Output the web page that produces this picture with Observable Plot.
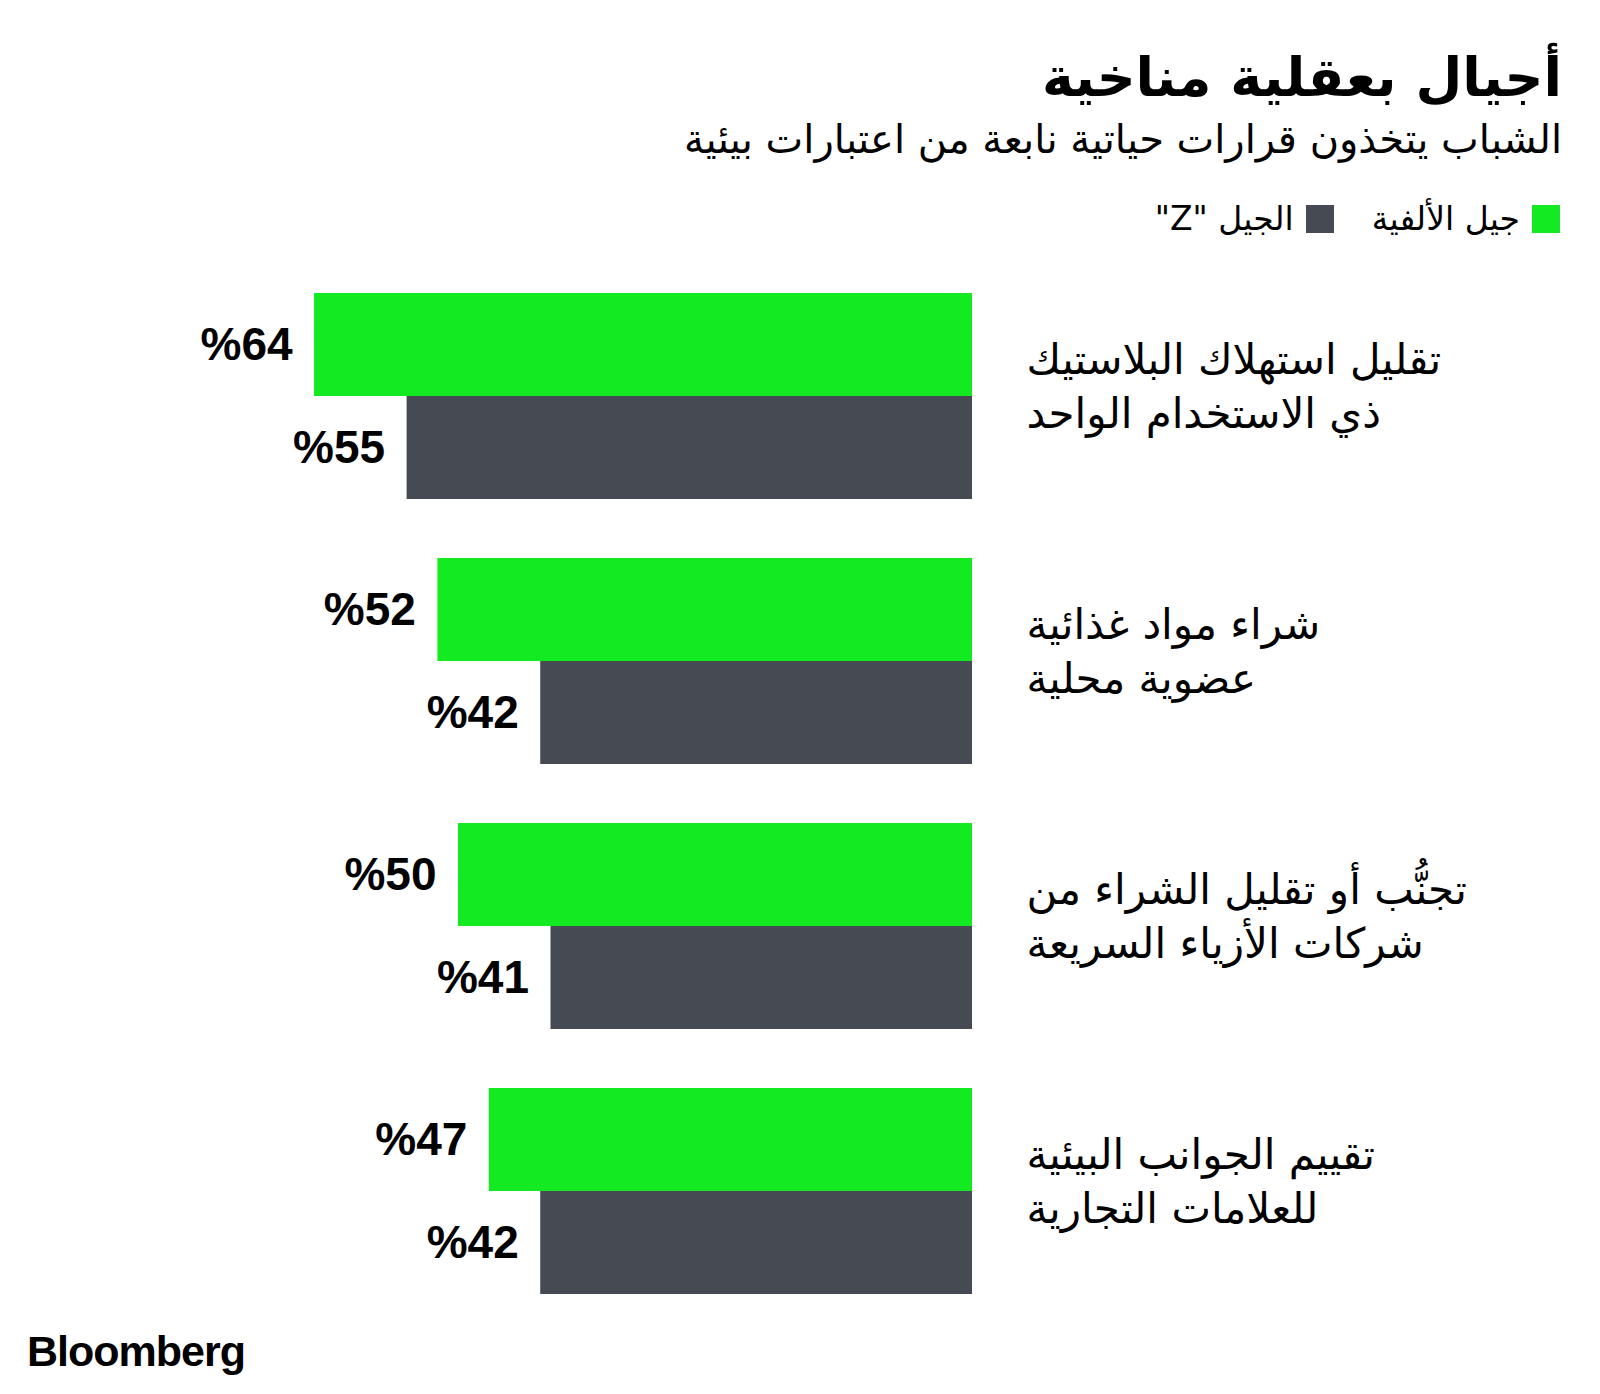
<!DOCTYPE html>
<html lang="ar">
<head>
<meta charset="utf-8">
<script src="https://cdn.jsdelivr.net/npm/d3@7"></script>
<script src="https://cdn.jsdelivr.net/npm/@observablehq/plot@0.6"></script>
<style>
  html, body { margin: 0; padding: 0; background: #fff; }
  body { width: 1600px; height: 1394px; position: relative; overflow: hidden; font-family: "DejaVu Sans", sans-serif; color: #000; }
  #header { position: relative; height: 250px; }
  #title { position: absolute; right: 38px; top: 46px; font-size: 54px; font-weight: bold; direction: rtl; white-space: nowrap; line-height: 1.2; }
  #subtitle { position: absolute; right: 38px; top: 115px; font-size: 40px; direction: rtl; white-space: nowrap; line-height: 1.2; }
  #legend { position: absolute; right: 40px; top: 199px; display: flex; direction: rtl; gap: 38px; font-size: 33px; align-items: center; white-space: nowrap; }
  .item { display: flex; align-items: center; gap: 12px; }
  .sw { width: 28px; height: 28px; display: inline-block; }
  #chart { position: absolute; left: 0; top: 250px; }
  #logo { position: absolute; left: 27px; top: 1327px; font-family: "Liberation Sans", Arial, sans-serif; font-weight: bold; font-size: 43px; letter-spacing: -1px; }
</style>
</head>
<body>
<div id="header">
  <div id="title"></div>
  <div id="subtitle"></div>
  <div id="legend"></div>
</div>
<div id="chart"></div>
<div id="logo">Bloomberg</div>
<script>
const titleText = "أجيال بعقلية مناخية";
const subtitleText = "الشباب يتخذون قرارات حياتية نابعة من اعتبارات بيئية";
const seriesNames = ["جيل الألفية", "الجيل \"Z\""];
const seriesColors = ["#14EA22", "#464A53"];
const categories = [
  "تقليل استهلاك البلاستيك\nذي الاستخدام الواحد",
  "شراء مواد غذائية\nعضوية محلية",
  "تجنُّب أو تقليل الشراء من\nشركات الأزياء السريعة",
  "تقييم الجوانب البيئية\nللعلامات التجارية"
];
const millennials = [64, 52, 50, 47];
const genZ = [55, 42, 41, 42];

document.getElementById("title").textContent = titleText;
document.getElementById("subtitle").textContent = subtitleText;
const legend = document.getElementById("legend");
seriesNames.forEach((name, i) => {
  const it = document.createElement("div");
  it.className = "item";
  const sw = document.createElement("span");
  sw.className = "sw";
  sw.style.background = seriesColors[i];
  const lab = document.createElement("span");
  lab.textContent = name;
  it.appendChild(sw);
  it.appendChild(lab);
  legend.appendChild(it);
});

const rows = [];
categories.forEach((c, i) => {
  rows.push({category: c, series: seriesNames[0], value: millennials[i]});
  rows.push({category: c, series: seriesNames[1], value: genZ[i]});
});

const chart = Plot.plot({
  width: 1600,
  height: 1060,
  marginLeft: 0,
  marginRight: 628,
  marginTop: 40,
  marginBottom: 14,
  x: {domain: [0, 94.55], reverse: true, axis: null},
  y: {domain: seriesNames, padding: 0, axis: null},
  fy: {domain: categories, paddingInner: 0.217, paddingOuter: 0, axis: null},
  color: {domain: seriesNames, range: seriesColors},
  marks: [
    Plot.barX(rows, {x: "value", y: "series", fy: "category", fill: "series"}),
    Plot.text(rows, {
      x: "value", y: "series", fy: "category",
      text: d => "%" + d.value,
      textAnchor: "end", dx: -22, dy: 0,
      fontFamily: "Liberation Sans, Arial, sans-serif",
      fontWeight: "bold", fontSize: 46, fill: "#000"
    }),
    Plot.text(categories, {
      x: () => 0, fy: d => d, text: d => d,
      textAnchor: "start", dx: 54, dy: -12,
      lineHeight: 1.29,
      fontFamily: "DejaVu Sans, sans-serif",
      fontSize: 42, fill: "#000"
    })
  ]
});
document.getElementById("chart").appendChild(chart);
</script>
</body>
</html>
